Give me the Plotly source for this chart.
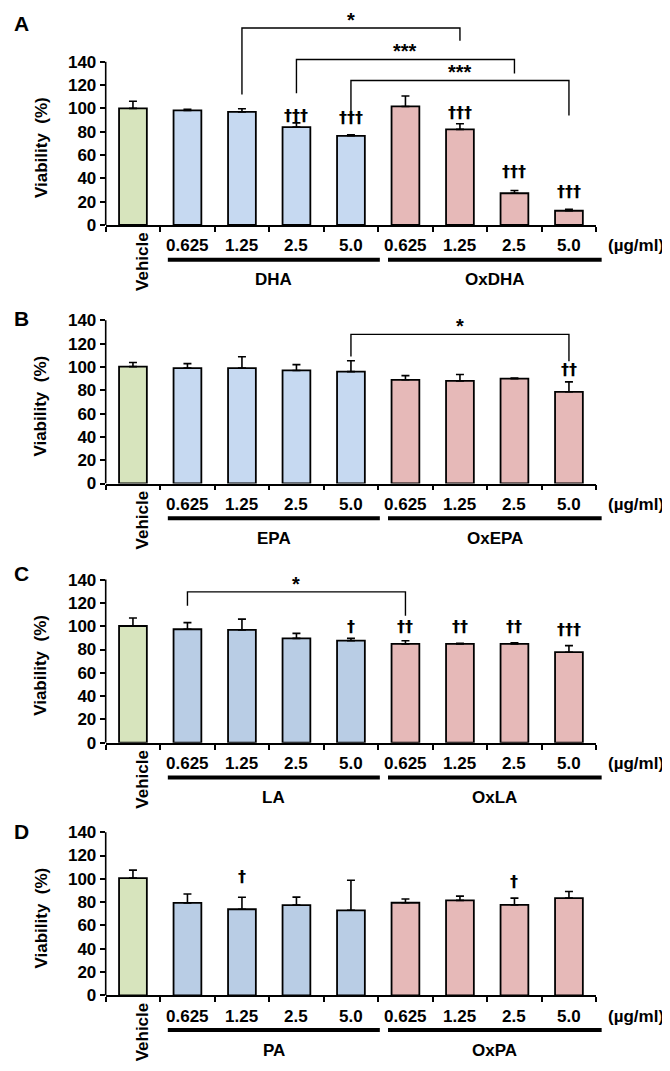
import plotly.graph_objects as go

W, H = 670, 1071

# ---------------- data ----------------
categories = ["Vehicle", "0.625", "1.25", "2.5", "5.0", "0.625", "1.25", "2.5", "5.0"]
panel_letters = ["A", "B", "C", "D"]
group_names = [("DHA", "OxDHA"), ("EPA", "OxEPA"), ("LA", "OxLA"), ("PA", "OxPA")]
unit_label = "(µg/ml)"
y_ticks = [0, 20, 40, 60, 80, 100, 120, 140]

viab_A = [100.0, 98.3, 97.0, 84.0, 76.5, 101.7, 82.0, 27.2, 12.2]
err_A = [6.2, 0.9, 2.7, 3.6, 0.9, 8.9, 4.9, 2.4, 1.2]
viab_B = [100.3, 99.1, 99.0, 97.0, 96.0, 89.0, 88.0, 90.0, 78.7]
err_B = [3.6, 3.8, 9.8, 5.0, 9.4, 3.6, 5.5, 0.4, 8.5]
viab_C = [100.2, 97.4, 96.8, 89.6, 87.6, 84.8, 84.8, 84.8, 77.7]
err_C = [6.8, 5.7, 9.3, 4.3, 2.0, 2.8, 0.6, 0.9, 5.7]
viab_D = [100.6, 79.4, 73.9, 77.5, 73.0, 79.5, 81.5, 77.6, 83.5]
err_D = [6.9, 7.6, 10.3, 6.8, 25.8, 3.2, 3.7, 5.9, 5.7]

# dagger marks: (bar index, text, y position)
daggers_A = [(3, "†††", 94), (4, "†††", 92.6), (6, "†††", 96.5), (7, "†††", 46), (8, "†††", 29)]
daggers_B = [(8, "††", 98)]
daggers_C = [(4, "†", 100), (5, "††", 100), (6, "††", 100), (7, "††", 100), (8, "†††", 97)]
daggers_D = [(2, "†", 102), (7, "†", 98)]

# significance brackets: (left bar, right bar, top, left-leg bottom, right-leg bottom, label)
brackets_A = [(2, 6, 169, 112, 158, "*"), (3, 7, 142, 113, 130, "***"), (4, 8, 124, 95, 94, "***")]
brackets_B = [(4, 8, 128, 109, 105, "*")]
brackets_C = [(1, 5, 129.5, 117.6, 109, "*")]
brackets_D = []

green = "#d7e4bd"
blues = ["#c6d9f1", "#c6d9f1", "#b9cde5", "#b9cde5"]
pink = "#e6b9b8"

values = [viab_A, viab_B, viab_C, viab_D]
errors = [err_A, err_B, err_C, err_D]
daggers = [daggers_A, daggers_B, daggers_C, daggers_D]
brackets = [brackets_A, brackets_B, brackets_C, brackets_D]

# ---------------- layout geometry (pixels) ----------------
zero_px = [219, 480, 741.7, 996.7]
top_px = [0, 298, 558, 812]
letter_px = [16, 313, 571, 831]
px_per_unit = 164.7 / 140
x_left, x_right = 97.7, 588.2
underline_spans = [(0.64, 4.53), (4.68, 8.6)]

FONT = "Liberation Sans, Arial, sans-serif"
def f(size, family=FONT):
    return dict(family=family, size=size, color="black", weight="bold")

fig = go.Figure()
shapes = []
annotations = []

for i in range(4):
    xa = "x" if i == 0 else f"x{i+1}"
    ya = "y" if i == 0 else f"y{i+1}"
    xkey = "xaxis" if i == 0 else f"xaxis{i+1}"
    ykey = "yaxis" if i == 0 else f"yaxis{i+1}"
    colors = [green] + [blues[i]] * 4 + [pink] * 4
    n = len(categories)

    fig.add_trace(go.Bar(
        x=list(range(n)), y=values[i], width=0.51,
        marker=dict(color=colors, line=dict(color="black", width=1.8)),
        error_y=dict(type="data", array=errors[i], arrayminus=[0] * n, symmetric=False,
                     color="black", thickness=1.6, width=4),
        xaxis=xa, yaxis=ya, showlegend=False, hoverinfo="skip",
    ))

    ymax = (zero_px[i] - top_px[i]) / px_per_unit
    fig.layout[xkey] = dict(
        domain=[x_left / W, x_right / W], range=[-0.5, n - 0.5], anchor=ya,
        showline=True, linecolor="black", linewidth=1.6,
        tickmode="array", tickvals=[k - 0.5 for k in range(n + 1)],
        ticks="outside", ticklen=5, tickwidth=1.5, tickcolor="black",
        showticklabels=False, showgrid=False, zeroline=False,
    )
    fig.layout[ykey] = dict(
        domain=[1 - zero_px[i] / H, 1 - top_px[i] / H], range=[0, ymax], anchor=xa,
        showline=False, tickmode="array", tickvals=y_ticks,
        ticks="outside", ticklen=5, tickwidth=1.5, tickcolor="black",
        tickfont=f(17), showgrid=False, zeroline=False,
    )

    # y axis line from 0 to 140
    shapes.append(dict(type="line", xref=f"{xa} domain", yref=ya, x0=0, x1=0,
                       y0=0, y1=y_ticks[-1], line=dict(color="black", width=1.6)))

    # group underlines
    for (a, b) in underline_spans:
        yy = 1 - (zero_px[i] + 35) / H
        shapes.append(dict(type="line", xref=f"{xa} domain", yref="paper",
                           x0=(a + 0.5) / n, x1=(b + 0.5) / n, y0=yy, y1=yy,
                           line=dict(color="black", width=4)))

    # x labels
    for k in range(1, n):
        annotations.append(dict(xref=xa, yref=ya, x=k, y=0, yshift=-21, text=categories[k],
                                showarrow=False, font=f(17), xanchor="center", yanchor="middle"))
    annotations.append(dict(xref=xa, yref=ya, x=0, y=0, xshift=9.5, yshift=-5,
                            text=categories[0], textangle=-90, showarrow=False,
                            font=f(17), xanchor="center", yanchor="top"))
    annotations.append(dict(xref="paper", yref=ya, x=628 / W, y=0, yshift=-21,
                            text=unit_label, showarrow=False, font=f(17),
                            xanchor="center", yanchor="middle"))
    for (a, b), name in zip(underline_spans, group_names[i]):
        annotations.append(dict(xref=xa, yref=ya, x=(a + b) / 2, y=0, yshift=-55,
                                text=name, showarrow=False, font=f(17),
                                xanchor="center", yanchor="middle"))

    # panel letter & y title
    annotations.append(dict(xref="paper", yref="paper", x=13 / W, y=1 - letter_px[i] / H,
                            text=panel_letters[i], showarrow=False, font=f(21),
                            xanchor="center", yanchor="middle"))
    annotations.append(dict(xref="paper", yref=ya, x=33 / W, y=66, text="Viability  (%)",
                            textangle=-90, showarrow=False, font=f(17),
                            xanchor="center", yanchor="middle"))

    # daggers
    for (k, txt, yv) in daggers[i]:
        annotations.append(dict(xref=xa, yref=ya, x=k, y=yv, text=txt, showarrow=False,
                                font=f(16, "DejaVu Sans, sans-serif"),
                                xanchor="center", yanchor="middle"))

    # brackets
    for (a, b, top, yb0, yb1, lab) in brackets[i]:
        shapes.append(dict(type="path", xref=xa, yref=ya,
                           path=f"M {a},{yb0} L {a},{top} L {b},{top} L {b},{yb1}",
                           line=dict(color="black", width=1.4)))
        annotations.append(dict(xref=xa, yref=ya, x=(a + b) / 2, y=top, yshift=-5, text=lab,
                                showarrow=False, font=f(20), xanchor="center", yanchor="bottom"))

fig.update_layout(
    width=W, height=H, margin=dict(l=0, r=0, t=0, b=0),
    paper_bgcolor="white", plot_bgcolor="rgba(0,0,0,0)",
    shapes=shapes, annotations=annotations, bargap=0.49,
)

fig.write_html("out.html")
